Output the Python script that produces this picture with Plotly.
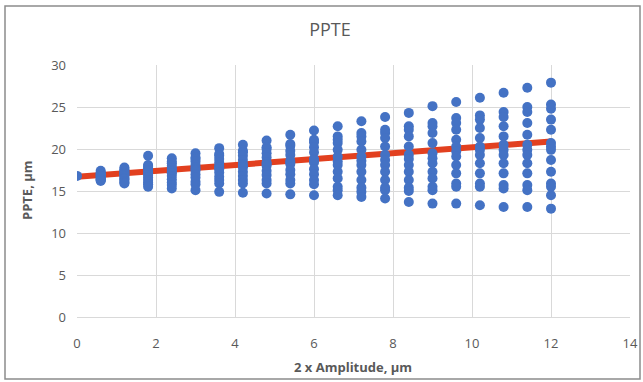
import plotly.graph_objects as go

# Amplitude columns (x) and PPTE readings (y) per column
amplitudes = [0.0, 0.6, 1.2, 1.8, 2.4, 3.0, 3.6, 4.2, 4.8, 5.4, 6.0,
              6.6, 7.2, 7.8, 8.4, 9.0, 9.6, 10.2, 10.8, 11.4, 12.0]

ppte_0_0 = [16.8]
ppte_0_6 = [17.4, 17.2, 17.1, 17.0, 16.9, 16.8, 16.7, 16.6, 16.5, 16.4, 16.3, 16.3, 16.2]
ppte_1_2 = [17.8, 17.6, 17.4, 17.3, 17.1, 17.0, 16.9, 16.7, 16.5, 16.4, 16.2, 16.0, 15.9]
ppte_1_8 = [19.2, 18.1, 17.9, 17.7, 17.5, 17.3, 17.1, 16.9, 16.6, 16.3, 16.0, 15.8, 15.5]
ppte_2_4 = [18.9, 18.5, 18.3, 18.0, 17.7, 17.5, 17.3, 17.1, 16.8, 16.4, 16.0, 15.7, 15.3]
ppte_3_0 = [19.5, 19.0, 18.8, 18.5, 18.1, 17.8, 17.6, 17.4, 17.0, 16.6, 16.1, 15.8, 15.1]
ppte_3_6 = [20.1, 19.4, 19.2, 18.8, 18.4, 18.0, 17.8, 17.6, 17.2, 16.7, 16.3, 15.9, 14.9]
ppte_4_2 = [20.5, 19.8, 19.6, 19.2, 18.7, 18.2, 18.0, 17.8, 17.3, 16.8, 16.3, 15.9, 14.8]
ppte_4_8 = [21.0, 20.2, 20.0, 19.5, 19.0, 18.4, 18.2, 18.0, 17.4, 16.9, 16.3, 15.9, 14.7]
ppte_5_4 = [21.7, 20.6, 20.4, 19.8, 19.3, 18.6, 18.4, 18.2, 17.5, 17.0, 16.3, 15.9, 14.6]
ppte_6_0 = [22.2, 21.1, 20.8, 20.2, 19.6, 18.8, 18.6, 18.4, 17.6, 17.0, 16.3, 15.8, 14.5]
ppte_6_6 = [22.7, 21.5, 21.1, 20.7, 19.9, 19.1, 18.5, 18.1, 17.3, 16.5, 15.5, 15.1, 14.5]
ppte_7_2 = [23.3, 21.9, 21.5, 20.9, 19.9, 19.1, 18.6, 18.1, 17.3, 16.3, 15.4, 14.9, 14.3]
ppte_7_8 = [23.8, 22.3, 21.9, 21.3, 20.3, 19.3, 18.7, 18.1, 17.3, 16.3, 15.4, 15.1, 14.1]
ppte_8_4 = [24.3, 22.7, 22.3, 21.5, 20.3, 19.3, 18.8, 18.1, 17.3, 16.3, 15.4, 15.0, 13.7]
ppte_9_0 = [25.1, 23.1, 22.7, 21.9, 20.7, 19.5, 18.9, 18.3, 17.3, 16.5, 15.5, 15.1, 13.5]
ppte_9_6 = [25.6, 23.7, 23.1, 22.3, 21.1, 20.3, 19.7, 19.1, 18.1, 17.1, 15.9, 15.5, 13.5]
ppte_10_2 = [26.1, 24.0, 23.5, 22.5, 21.3, 20.3, 19.9, 19.3, 18.3, 17.1, 15.9, 15.5, 13.3]
ppte_10_8 = [26.7, 24.4, 23.8, 22.7, 21.5, 20.5, 19.9, 19.3, 18.3, 17.1, 15.7, 15.3, 13.1]
ppte_11_4 = [27.3, 25.0, 24.4, 23.1, 21.7, 20.5, 19.9, 19.3, 18.3, 17.1, 15.7, 15.1, 13.1]
ppte_12_0 = [27.9, 25.3, 24.8, 23.5, 22.3, 20.7, 20.3, 19.9, 18.7, 17.3, 15.9, 15.5, 14.5, 12.9]

ppte_columns = [ppte_0_0, ppte_0_6, ppte_1_2, ppte_1_8, ppte_2_4, ppte_3_0, ppte_3_6,
                ppte_4_2, ppte_4_8, ppte_5_4, ppte_6_0, ppte_6_6, ppte_7_2, ppte_7_8,
                ppte_8_4, ppte_9_0, ppte_9_6, ppte_10_2, ppte_10_8, ppte_11_4, ppte_12_0]

# Linear trendline endpoints
trend_x = [0.0, 12.0]
trend_y = [16.7, 20.9]

xs, ys = [], []
for a, col in zip(amplitudes, ppte_columns):
    for v in col:
        xs.append(a)
        ys.append(v)

W, H = 643, 382
ML, MR, MT, MB = 77, 13, 65, 65
pw, ph = W - ML - MR, H - MT - MB

fig = go.Figure()
fig.add_trace(go.Scatter(x=trend_x, y=trend_y, mode="lines",
                         line=dict(color="#E2401F", width=6), hoverinfo="skip"))
fig.add_trace(go.Scatter(x=xs, y=ys, mode="markers",
                         marker=dict(color="#4472C4", size=10, line=dict(width=0))))

font_fam = "Open Sans, Noto Sans, sans-serif"
fig.update_layout(
    width=W, height=H,
    margin=dict(l=ML, r=MR, t=MT, b=MB, autoexpand=False),
    paper_bgcolor="white", plot_bgcolor="white",
    showlegend=False,
    font=dict(family=font_fam, color="#595959", size=13),
    title=dict(text="PPTE", x=330 / W, xanchor="center", y=1 - 30 / H, yanchor="middle",
               font=dict(size=18, color="#595959", family=font_fam)),
    xaxis=dict(range=[0, 14], dtick=2, tick0=0, showgrid=True, gridcolor="#D9D9D9", gridwidth=1,
               zeroline=False, showline=True, linecolor="#D9D9D9", ticks="", ticklen=0,
               ticklabelstandoff=14, automargin=False,
               tickfont=dict(size=13, color="#595959")),
    yaxis=dict(range=[0, 30], dtick=5, tick0=0, showgrid=True, gridcolor="#D9D9D9", gridwidth=1,
               zeroline=False, showline=False, ticks="", ticklen=0,
               ticklabelstandoff=10, automargin=False,
               tickfont=dict(size=13, color="#595959")),
    annotations=[
        dict(text="<b>2 x Amplitude, µm</b>", xref="paper", yref="paper",
             x=(353 - ML) / pw, y=(H - MB - 367) / ph, xanchor="center", yanchor="middle",
             showarrow=False, font=dict(size=13, color="#595959")),
        dict(text="<b>PPTE, µm</b>", xref="paper", yref="paper", textangle=-90,
             x=(27 - ML) / pw, y=(H - MB - 190) / ph, xanchor="center", yanchor="middle",
             showarrow=False, font=dict(size=13, color="#595959")),
    ],
    shapes=[dict(type="rect", xref="paper", yref="paper",
                 x0=(5 - ML) / pw, x1=(640 - ML) / pw,
                 y0=(H - MB - 379) / ph, y1=(H - MB - 6) / ph,
                 line=dict(color="#8C8C8C", width=1.5), fillcolor="rgba(0,0,0,0)", layer="below")],
)

fig.write_html("out.html")
